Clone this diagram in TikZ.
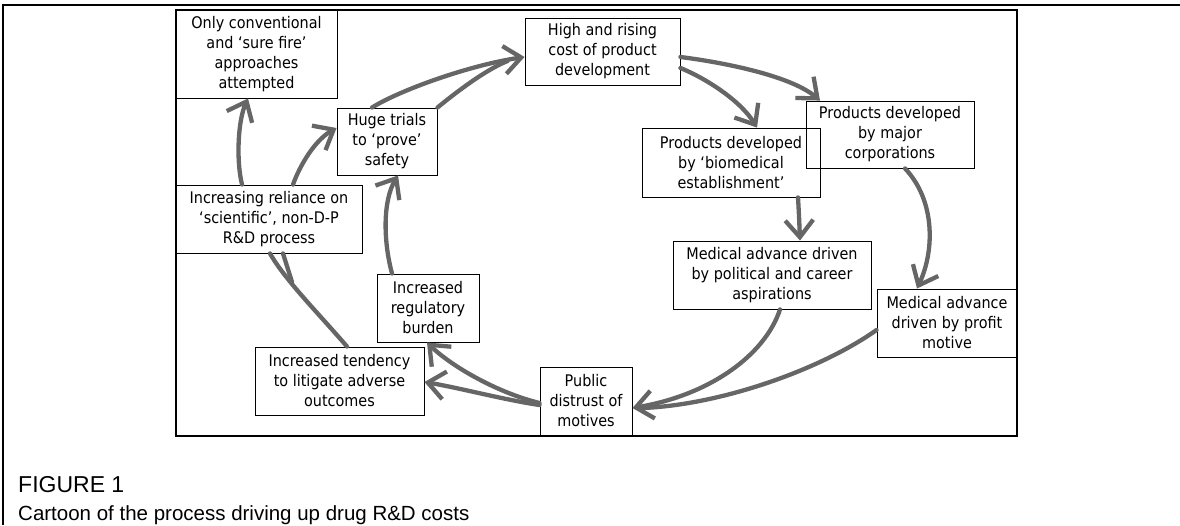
\documentclass[tikz,border=0pt]{standalone}
\usepackage{fontspec}
\setmainfont{Liberation Sans}
\newfontfamily\boxfont[FakeStretch=0.9]{DejaVu Sans}
\usetikzlibrary{arrows.meta}
\definecolor{arrgray}{RGB}{102,102,102}
\tikzset{
  card/.style={draw=black, line width=0.9pt, align=center, inner sep=0pt,
    font=\boxfont\fontsize{16}{20}\selectfont},
  flow/.style={draw=arrgray, line width=4.3pt, line cap=round,
    -{Straight Barb[length=17pt,width=28pt]}},
  flowline/.style={draw=arrgray, line width=4.3pt, line cap=round},
  frameline/.style={draw=black, line width=2pt},
}
\begin{document}
\begin{tikzpicture}[x=1pt,y=-1pt]
\useasboundingbox (0,0) rectangle (1180,525);
% frames
\draw[frameline] (1180,5) -- (3,5) -- (3,525);
\draw[frameline] (176,10) rectangle (1017,436);
% boxes
\node[card, minimum width=161pt, minimum height=88pt] (oc) at (256.5,54)
  {Only conventional\\and ‘sure fire’\\approaches\\attempted};
\node[card, minimum width=155pt, minimum height=67pt] (hr) at (602.5,51.5)
  {High and rising\\cost of product\\development};
\node[card, minimum width=100pt, minimum height=67pt] (ht) at (387,141.5)
  {Huge trials\\to ‘prove’\\safety};
\node[card, minimum width=186pt, minimum height=68pt] (ir) at (269,219)
  {Increasing reliance on\\‘scientific’, non-D-P\\R\&D process};
\node[card, minimum width=168pt, minimum height=67pt] (pm) at (890,134.5)
  {Products developed\\by major\\corporations};
\node[card, minimum width=178pt, minimum height=69pt] (pb) at (731,162.5)
  {Products developed\\by ‘biomedical\\establishment’};
\node[card, minimum width=198pt, minimum height=68pt] (mp) at (772,275)
  {Medical advance driven\\by political and career\\aspirations};
\node[card, minimum width=140pt, minimum height=68pt] (mf) at (947,323)
  {Medical advance\\driven by profit\\motive};
\node[card, minimum width=92pt, minimum height=68pt] (pd) at (586,401)
  {Public\\distrust of\\motives};
\node[card, minimum width=169pt, minimum height=68pt] (it) at (339.5,381)
  {Increased tendency\\to litigate adverse\\outcomes};
\node[card, minimum width=102pt, minimum height=68pt] (rb) at (428,308)
  {Increased\\regulatory\\burden};
% connectors
\draw[flow] ([xshift=-27pt]ir.north) .. controls (236,160) and (238,120) .. ([xshift=-8.5pt]oc.south);
\draw[flow] ([xshift=24pt]ir.north) .. controls (300,165) and (315,140) .. ([yshift=13.5pt]ht.west);
\draw[flow] ([xshift=-15pt]ht.north) .. controls (400,90) and (470,65) .. ([yshift=-5.5pt]hr.west);
\draw[flowline] (ht.north east) .. controls (465,85) and (490,68) .. ([xshift=-17pt,yshift=-9.5pt]hr.west);
\draw[flow] ([yshift=-5.5pt]hr.east) .. controls (720,62) and (790,75) .. ([xshift=-70pt]pm.north);
\draw[flow] ([yshift=-16.5pt]hr.east) .. controls (705,78) and (740,100) .. ([xshift=26pt]pb.north);
\draw[flow] ([xshift=67pt]pb.south) .. controls (799,215) .. ([xshift=28pt]mp.north);
\draw[flow] ([xshift=15pt]pm.south) .. controls (935,200) and (935,250) .. ([xshift=-30pt]mf.north);
\draw[flow] ([xshift=8pt]mp.south) .. controls (765,355) and (710,395) .. ([yshift=-7pt]pd.east);
\draw[flowline] ([yshift=-7pt]mf.west) .. controls (820,370) and (720,405) .. ([xshift=10pt,yshift=-7pt]pd.east);
\draw[flow] ([yshift=-4pt]pd.west) .. controls (505,400) and (460,388) .. ([yshift=-1pt]it.east);
\draw[flow] ([yshift=-2pt]pd.west) .. controls (495,392) and (450,365) .. ([xshift=-1pt]rb.south);
\draw[flowline] ([xshift=7.5pt]it.north) .. controls (320,315) and (285,280) .. ([xshift=1pt]ir.south);
\coordinate (br) at (292,282);
\draw[flowline] (br) -- ([xshift=14pt]ir.south);
\draw[flow] ([xshift=-36pt]rb.north) .. controls (383,240) and (383,200) .. ([xshift=11pt]ht.south);
% caption
\node[anchor=base west, inner sep=0pt, font=\fontsize{23}{27}\selectfont] (fig) at (18,492) {FIGURE 1};
\node[anchor=base west, inner sep=0pt, font=\fontsize{20.5}{25}\selectfont] (cap) at (18,520)
  {Cartoon of the process driving up drug R\&D costs};
\end{tikzpicture}
\end{document}
